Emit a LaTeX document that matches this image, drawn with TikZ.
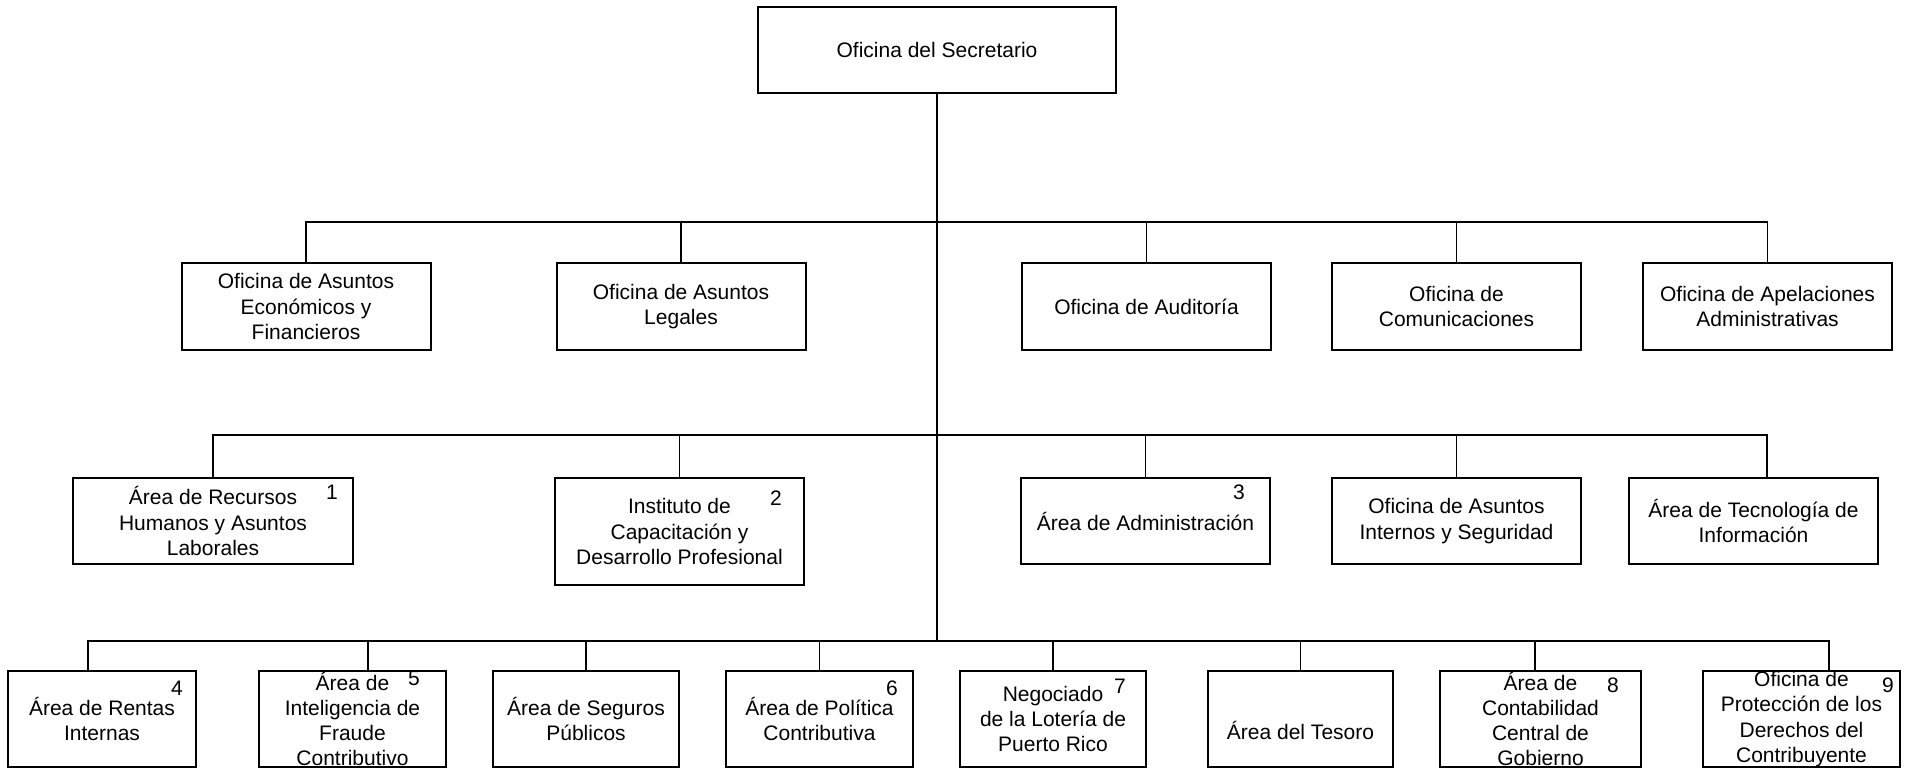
\documentclass[tikz,border=0pt]{standalone}
\usepackage{fontspec}
\setmainfont{Liberation Sans}
\usepackage{tikz}
\usetikzlibrary{positioning}
\newcommand{\orgfont}{\fontsize{10.5}{12.6}\selectfont}
\tikzstyle{org-box}=[rectangle, draw=black, line width=1pt, align=center, inner sep=0pt, outer sep=0pt, font=\orgfont]
\tikzstyle{row-one}=[org-box, minimum width=124.5pt, minimum height=43.5pt]
\tikzstyle{row-two}=[org-box, minimum width=124.5pt, minimum height=43pt]
\tikzstyle{row-three}=[org-box, minimum height=48pt]
\tikzstyle{org-num}=[inner sep=0pt, font=\orgfont]
\tikzstyle{org-line}=[line width=0.9pt]

\begin{document}
\begin{tikzpicture}[x=0.5pt, y=-0.5pt]
  \useasboundingbox (0,0) rectangle (1928,770);

	\node[org-box, minimum width=179pt, minimum height=43pt] (secretario) at (937,50) {Oficina del Secretario};

	% primer nivel
	\node[row-one] (economicos) at (306,306.5) {Oficina de Asuntos\\Económicos y\\Financieros};
	\node[row-one] (legales) [right=63pt of economicos] {Oficina de Asuntos\\Legales};
	\node[row-one] (auditoria) [right=108.25pt of legales] {Oficina de Auditoría};
	\node[row-one] (comunicaciones) [right=30.5pt of auditoria] {Oficina de\\Comunicaciones};
	\node[row-one] (apelaciones) [right=31pt of comunicaciones] {Oficina de Apelaciones\\Administrativas};

	% segundo nivel
	\node[row-two, minimum width=140pt] (recursos) at (213,521) {Área de Recursos\\Humanos y Asuntos\\Laborales};
	\node[row-two, minimum height=53.5pt] (instituto) [right=101pt of recursos.north east, anchor=north west] {Instituto de\\Capacitación y\\Desarrollo Profesional};
	\node[row-two] (administracion) [right=108.5pt of instituto.north east, anchor=north west] {Área de Administración};
	\node[row-two] (internos) [right=31pt of administracion.north east, anchor=north west] {Oficina de Asuntos\\Internos y Seguridad};
	\node[row-two] (tecnologia) [right=24pt of internos.north east, anchor=north west] {Área de Tecnología de\\Información};

	% tercer nivel
	\node[row-three, minimum width=94pt] (rentas) at (102,719) {Área de Rentas\\Internas};
	\node[row-three, minimum width=93.5pt] (inteligencia) [right=31.5pt of rentas] {Área de\\Inteligencia de\\Fraude\\Contributivo};
	\node[row-three, minimum width=93pt] (seguros) [right=23.5pt of inteligencia] {Área de Seguros\\Públicos};
	\node[row-three, minimum width=93.5pt] (politica) [right=23.5pt of seguros] {Área de Política\\Contributiva};
	\node[row-three, minimum width=93pt] (loteria) [right=23.5pt of politica] {Negociado\\de la Lotería de\\Puerto Rico};
	\node[row-three, minimum width=92.5pt, text height=20.5pt] (tesoro) [right=31pt of loteria] {Área del Tesoro};
	\node[row-three, minimum width=100.5pt] (contabilidad) [right=23.5pt of tesoro] {Área de\\Contabilidad\\Central de\\Gobierno};
	\node[row-three, minimum width=98.5pt] (proteccion) [right=31pt of contabilidad] {Oficina de\\Protección de los\\Derechos del\\Contribuyente};

	% numeros
	\node[org-num] (num-1) [below left=7pt and 10.5pt of recursos.north east, anchor=center] {1};
	\node[org-num] (num-2) [below left=10pt and 14pt of instituto.north east, anchor=center] {2};
	\node[org-num] (num-3) [below left=7pt and 15.5pt of administracion.north east, anchor=center] {3};
	\node[org-num] (num-4) [below left=8.5pt and 9.5pt of rentas.north east, anchor=center] {4};
	\node[org-num] (num-5) [below left=3.5pt and 16pt of inteligencia.north east, anchor=center] {5};
	\node[org-num] (num-6) [below left=8.5pt and 10.5pt of politica.north east, anchor=center] {6};
	\node[org-num] (num-7) [below left=7.5pt and 13pt of loteria.north east, anchor=center] {7};
	\node[org-num] (num-8) [below left=7pt and 14pt of contabilidad.north east, anchor=center] {8};
	\node[org-num] (num-9) [below left=7pt and 6pt of proteccion.north east, anchor=center] {9};

	% lineas
	\coordinate (bus1) at (0,222);
	\coordinate (bus2) at (0,435);
	\coordinate (bus3) at (0,641);
	\foreach \n/\dx in {economicos/0pt, legales/0pt, auditoria/0pt, comunicaciones/0pt, apelaciones/0pt,
	    recursos/0pt, instituto/0pt, administracion/0pt, internos/0pt, tecnologia/6.75pt,
	    rentas/-7pt, inteligencia/7.75pt, seguros/0pt, politica/0pt, loteria/0pt, tesoro/0pt,
	    contabilidad/-2.75pt, proteccion/13.75pt}
	  \coordinate (\n-top) at ([xshift=\dx]\n.north);

	\draw[org-line] (secretario.south) -- (secretario.south |- bus3);

	\draw[org-line] (economicos-top) |- (bus1 -| apelaciones-top) -- (apelaciones-top);
	\foreach \n in {legales, auditoria, comunicaciones}
	  \draw[org-line] (\n-top) -- (\n-top |- bus1);

	\draw[org-line] (recursos-top) |- (bus2 -| tecnologia-top) -- (tecnologia-top);
	\foreach \n in {instituto, administracion, internos}
	  \draw[org-line] (\n-top) -- (\n-top |- bus2);

	\draw[org-line] (rentas-top) |- (bus3 -| proteccion-top) -- (proteccion-top);
	\foreach \n in {inteligencia, seguros, politica, loteria, tesoro, contabilidad}
	  \draw[org-line] (\n-top) -- (\n-top |- bus3);
\end{tikzpicture}
\end{document}
